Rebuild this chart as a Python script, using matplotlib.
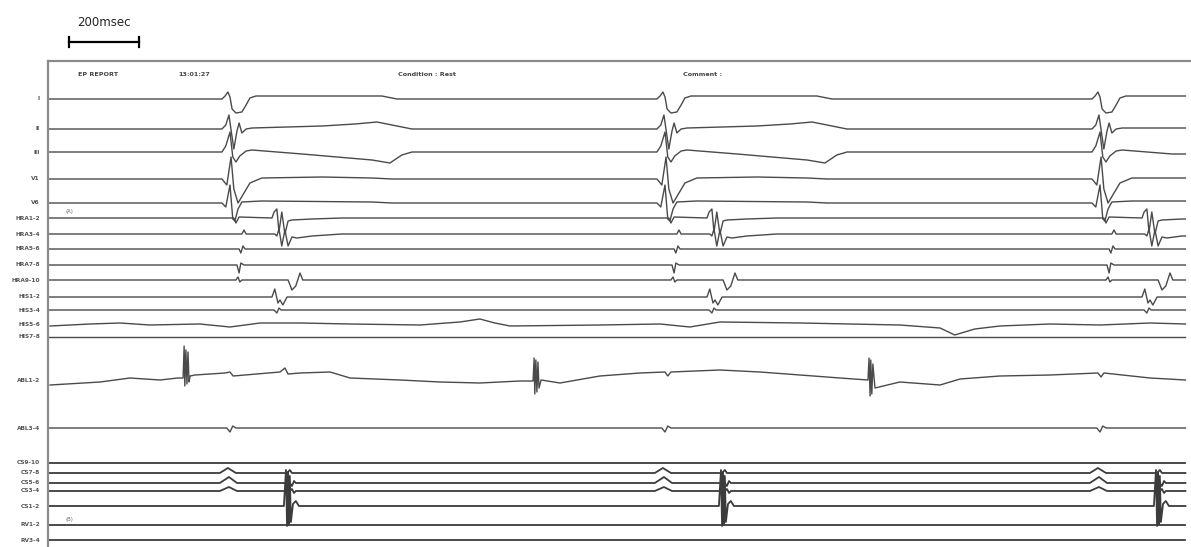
import matplotlib
matplotlib.use("Agg")
import matplotlib.pyplot as plt
import matplotlib.transforms as mtransforms

# ---- data: time in ms, amplitude in display units (up = positive) ----
t_end = 3250
beat_onsets = [497, 1740, 2983]

labels = ["I", "II", "III", "V1", "V6",
          "HRA1-2", "HRA3-4", "HRA5-6", "HRA7-8", "HRA9-10",
          "HIS1-2", "HIS3-4", "HIS5-6", "HIS7-8",
          "ABL1-2", "ABL3-4",
          "CS9-10", "CS7-8", "CS5-6", "CS3-4", "CS1-2",
          "RV1-2", "RV3-4"]
baselines = [38, 68, 91, 118, 142,
             157, 173, 188, 204, 219,
             236, 249, 264, 276,
             319, 367,
             402, 412, 422, 430, 445,
             464, 479]

# beat templates: (ms after QRS onset, amplitude)
tpl_I = [(0, 0), (9, 3), (17, 7), (23, 2), (29, -10), (40, -14), (57, -13), (69, -6),
         (80, 1), (97, 3), (286, 3), (457, 3), (500, 0)]
tpl_II = [(0, 0), (11, 4), (20, 14), (29, -8), (34, -20), (43, -2), (49, 6), (57, -4),
          (69, 0), (86, 1), (286, 3), (380, 5), (443, 7), (500, 3), (543, 0)]
tpl_III = [(0, 0), (11, 6), (23, 20), (31, -5), (40, -10), (51, -4), (69, 1), (86, 2),
           (229, -2), (429, -8), (480, -11), (514, -3), (543, 0)]
tpl_V1 = [(0, 0), (14, -6), (26, 22), (34, -10), (46, -24), (63, -14), (80, -4),
          (114, 1), (286, 2), (429, 1), (486, 0)]
tpl_V6 = [(0, 0), (11, -4), (23, 18), (31, -16), (37, -18), (46, -6), (57, 1),
          (114, 2), (429, 1), (486, 0)]
tpl_HRA12 = [(0, 0), (34, 0), (40, -5), (49, 1), (143, 0), (149, 6), (157, 9), (163, -14),
             (171, 6), (180, -16), (189, -3), (200, -2), (257, -1), (343, 0)]
tpl_HRA34 = [(0, 0), (57, 0), (63, 4), (69, 0), (151, 0), (157, -2), (163, 5), (171, -12),
             (180, 4), (189, -12), (200, -3), (214, -4), (257, -2), (343, 0)]
tpl_HRA56 = [(0, 0), (49, 0), (54, -4), (60, 3), (66, 0)]
tpl_HRA78 = [(0, 0), (43, 0), (49, -8), (54, 2), (63, 0)]
tpl_HRA910 = [(0, 0), (40, 0), (46, 3), (51, -2), (57, 0), (189, 0), (200, -10),
              (211, -6), (223, 7), (231, 0)]
tpl_HIS12 = [(0, 0), (143, 0), (151, 8), (160, -6), (166, -3), (174, -8), (186, 0)]
tpl_HIS34 = [(0, 0), (149, 0), (157, -3), (163, 2), (169, 0)]
tpl_flat = [(0, 0)]
tpl_ABL34 = [(0, 0), (14, 0), (23, -4), (31, 2), (40, 0)]
tpl_CS78 = [(-6, 0), (17, 5), (40, 0), (186, 0), (194, 3), (200, 0)]
tpl_CS56 = [(-6, 0), (20, 6), (43, 0), (194, 0), (200, -3), (206, 2), (211, 0)]
tpl_CS34 = [(-6, 0), (20, 4), (43, 0), (194, 0), (200, 2), (206, -2), (211, 0)]
tpl_CS12 = [(0, 0), (177, 0), (183, 36), (186, -20), (189, 34), (191, -19), (194, 30),
            (197, -16), (203, 2), (211, 5), (220, 0)]

# channels traced over the whole strip (ms, amplitude)
his56_t = [6, 120, 206, 291, 434, 520, 606, 720, 863, 1063, 1177, 1234, 1277, 1320,
           1577, 1749, 1834, 1920, 2149, 2434, 2549, 2591, 2648, 2720, 2863, 3006, 3149, 3250]
his56_v = [-1, 1, 2, 0, 1, -2, 2, 2, 1, 0, 3, 6, 2, -1,
           0, 1, -2, 3, 2, 0, -3, -10, -4, -1, 1, 0, 2, 1]

abl12_t = [6, 149, 234, 320, 371, 386, 389, 391, 394, 397, 400, 403, 406, 420, 506, 520,
           529, 663, 677, 686, 720, 806, 863, 1006, 1120, 1234, 1349, 1386, 1389, 1391,
           1394, 1397, 1400, 1403, 1409, 1463, 1577, 1691, 1763, 1771, 1780, 1920, 2034,
           2149, 2263, 2343, 2346, 2349, 2351, 2354, 2357, 2363, 2434, 2549, 2606, 2720,
           2863, 3000, 3009, 3017, 3149, 3250]
abl12_v = [-5, -2, 2, 0, 2, 2, 34, -6, 30, -4, 28, -2, 4, 5, 7, 8,
           4, 8, 12, 6, 7, 8, 2, 0, -2, -3, -1, -1, 22, -14,
           20, -12, 18, -8, 0, -3, 4, 7, 8, 4, 8, 10, 8,
           5, 2, 0, 22, -16, 20, -14, 16, -8, -2, -5, 1, 4,
           5, 7, 3, 7, 2, 0]

templates = [tpl_I, tpl_II, tpl_III, tpl_V1, tpl_V6,
             tpl_HRA12, tpl_HRA34, tpl_HRA56, tpl_HRA78, tpl_HRA910,
             tpl_HIS12, tpl_HIS34, None, tpl_flat,
             None, tpl_ABL34,
             tpl_flat, tpl_CS78, tpl_CS56, tpl_CS34, tpl_CS12,
             tpl_flat, tpl_flat]

header = [(86, "EP REPORT"), (371, "13:01:27"), (1000, "Condition : Rest"), (1814, "Comment :")]


def beat_trace(tpl):
    ts, vs = [0], [0]
    for t0 in beat_onsets:
        for dt, a in tpl:
            if t0 + dt < t_end:
                ts.append(t0 + dt)
                vs.append(a)
    ts.append(t_end)
    vs.append(vs[-1])
    return ts, vs


fig = plt.figure(figsize=(11.91, 5.47), dpi=100)
ax = fig.add_axes([48 / 1191, 0, 1 - 48 / 1191, 486 / 547])
ax.set_xlim(0, 3266)
ax.set_ylim(486, 0)
ax.set_xticks([])
ax.set_yticks([])
for s in ["right", "bottom"]:
    ax.spines[s].set_visible(False)
for s in ["left", "top"]:
    ax.spines[s].set_color("#8a8a8a")
    ax.spines[s].set_linewidth(1.6)

lab_tr = mtransforms.blended_transform_factory(ax.transAxes, ax.transData)

for i, (name, base) in enumerate(zip(labels, baselines)):
    if name == "HIS5-6":
        ts, vs = his56_t, his56_v
    elif name == "ABL1-2":
        ts, vs = abl12_t, abl12_v
    else:
        ts, vs = beat_trace(templates[i])
    lw = 1.3 if i >= 16 else 1.0
    col = "#3c3c3c" if i >= 16 else "#4a4a4a"
    ax.plot(ts, [base - v for v in vs], color=col, lw=lw, solid_joinstyle="round")
    ax.text(-0.007, base, name, transform=lab_tr, ha="right", va="center",
            fontsize=4.2, color="#555555", fontweight="bold")

for t, txt in header:
    ax.text(t, 14, txt, fontsize=4.6, color="#444444", fontweight="bold", va="center")

ax.text(49, 151, "(A)", fontsize=3.8, color="#666666", va="center")
ax.text(51, 458, "(B)", fontsize=3.8, color="#666666", va="center")

# 200 ms calibration bar above the frame
ax.plot([60, 260], [-19, -19], color="black", lw=1.6, clip_on=False)
ax.plot([60, 60], [-24, -14], color="black", lw=1.6, clip_on=False)
ax.plot([260, 260], [-24, -14], color="black", lw=1.6, clip_on=False)
ax.text(160, -39, "200msec", ha="center", va="center", fontsize=8.5, color="#222222",
        clip_on=False)

fig.savefig("out.png", dpi=100)
